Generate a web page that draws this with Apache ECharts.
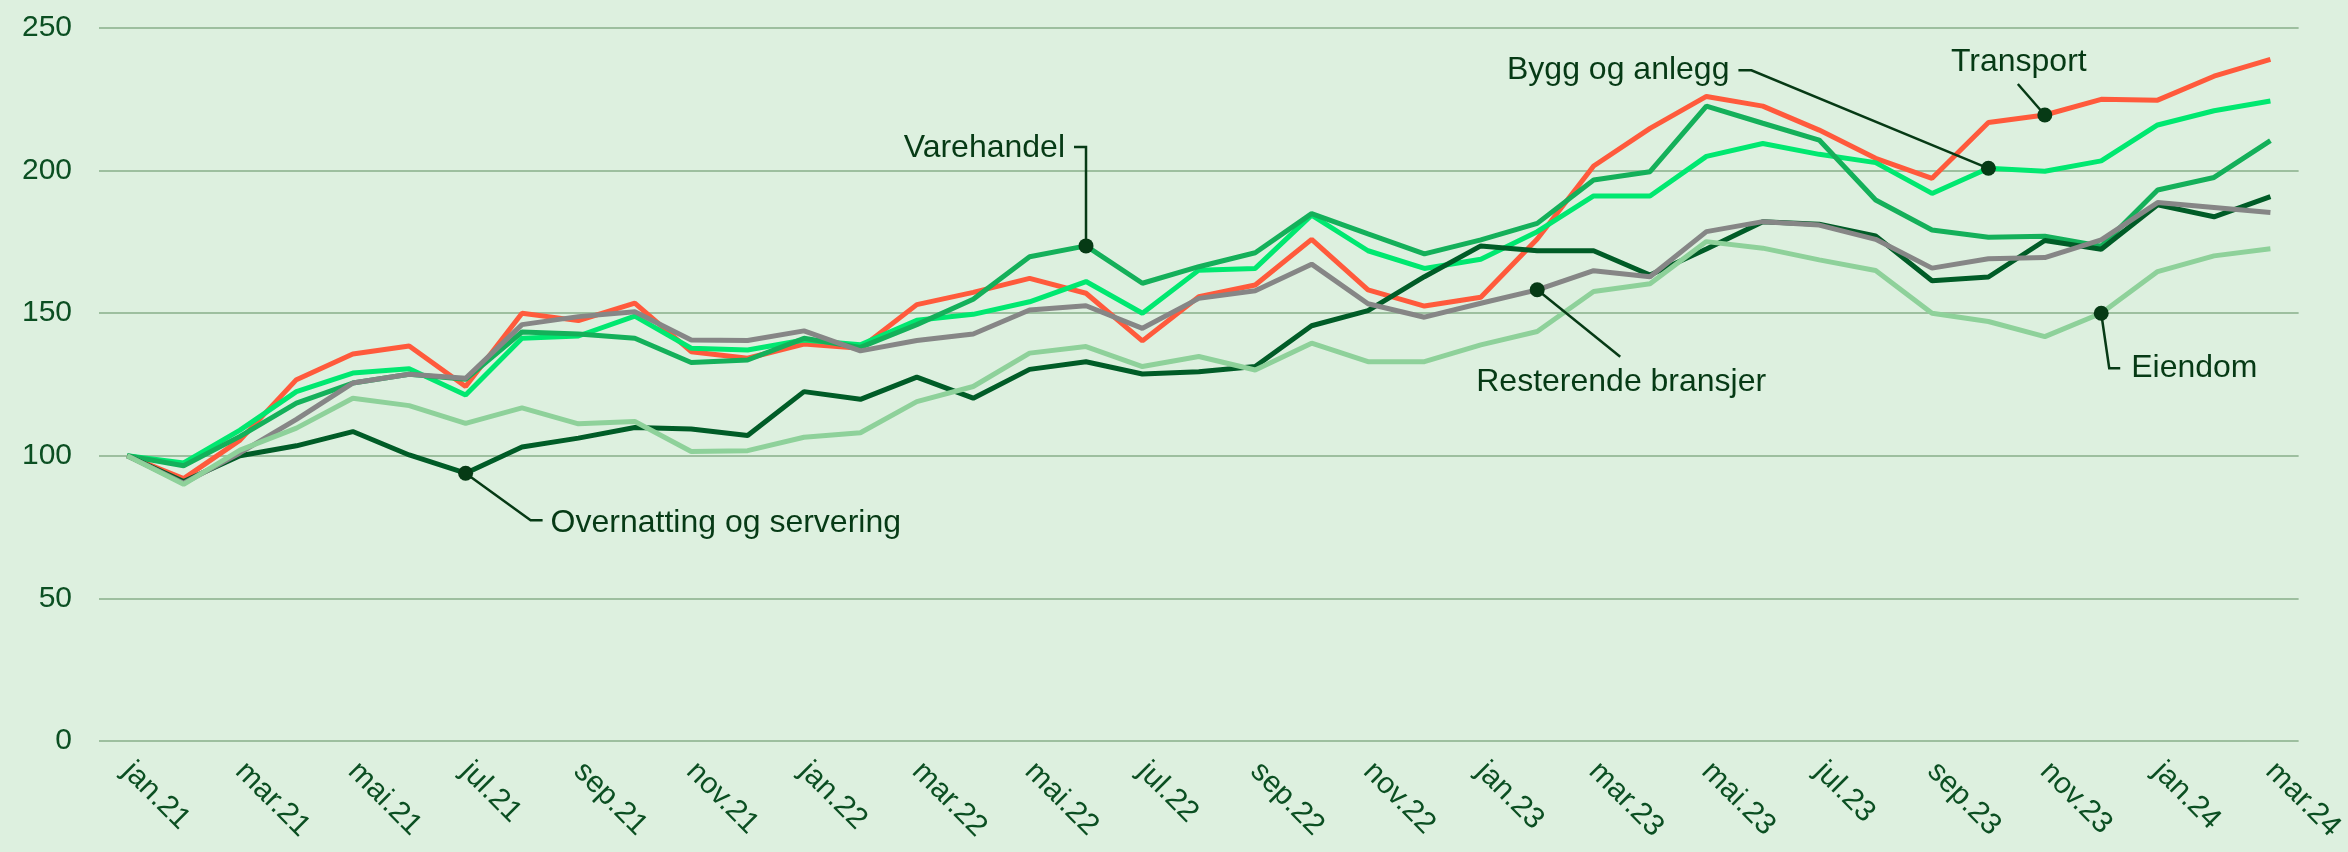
<!DOCTYPE html>
<html>
<head>
<meta charset="utf-8">
<script src="https://cdn.jsdelivr.net/npm/echarts@6/dist/echarts.min.js"></script>
<style>
  html, body { margin: 0; padding: 0; background: #DDF0DF; }
  #chart { width: 2348px; height: 852px; }
</style>
</head>
<body>
<div id="chart"></div>
<script>
  // måneder jan.21 - mar.24
  var months = ['jan.21','feb.21','mar.21','apr.21','mai.21','jun.21','jul.21','aug.21','sep.21','okt.21','nov.21','des.21',
    'jan.22','feb.22','mar.22','apr.22','mai.22','jun.22','jul.22','aug.22','sep.22','okt.22','nov.22','des.22',
    'jan.23','feb.23','mar.23','apr.23','mai.23','jun.23','jul.23','aug.23','sep.23','okt.23','nov.23','des.23',
    'jan.24','feb.24','mar.24'];
  var yTicks = [0, 50, 100, 150, 200, 250];

  var transport = [100, 92, 105.5, 126.7, 135.7, 138.5, 124.3, 150, 147.4, 153.5, 136.5, 134.2,
    139.2, 137.7, 153, 157.3, 162.2, 157, 140.3, 155.8, 159.9, 175.9, 158.2, 152.5,
    155.6, 176, 201.6, 214.8, 226, 222.6, 214.2, 204.3, 197.3, 216.9, 219.5, 225,
    224.7, 233.1, 239];
  var bygg = [100, 97.5, 109, 122.5, 129, 130.5, 121.3, 141.2, 142, 149, 137.7, 137.1,
    140.6, 138.9, 147.5, 149.6, 154, 161.1, 150, 165.1, 165.7, 184.4, 171.9, 165.7,
    168.9, 178.6, 191.1, 191.1, 205, 209.5, 205.7, 202.8, 192, 200.8, 199.8, 203.4,
    216, 221, 224.4];
  var varehandel = [100, 96.5, 106.8, 118.5, 125.5, 128.6, 126.8, 143.4, 142.7, 141.2, 132.7, 133.6,
    141.2, 138, 146, 154.9, 169.8, 173.6, 160.5, 166.3, 171.2, 184.9, 177.8, 170.8,
    175.7, 181.5, 196.7, 199.6, 222.6, 216.6, 210.7, 189.7, 179.2, 176.6, 177, 173.5,
    193.2, 197.6, 210.5];
  var overnatting = [100, 91, 100, 103.5, 108.5, 100.3, 93.9, 103.1, 106.2, 109.9, 109.4, 107.1,
    122.5, 119.8, 127.6, 120.2, 130.3, 133, 128.7, 129.5, 131.3, 145.6, 150.9, 162.8,
    173.6, 171.9, 171.9, 163.4, 172.5, 182.1, 181.2, 177.1, 161.4, 162.7, 175.5, 172.4,
    188, 183.8, 190.9];
  var resterende = [100, 90.4, 101, 112.8, 125.5, 128.6, 127.2, 146, 148.8, 150.5, 140.6, 140.4,
    143.8, 136.8, 140.4, 142.7, 151.1, 152.6, 144.7, 155.2, 157.9, 167.2, 153.3, 148.6,
    153.5, 158.2, 164.9, 162.8, 178.6, 182.1, 180.9, 175.9, 165.8, 169.1, 169.5, 175.7,
    188.8, 187.1, 185.3];
  var eiendom = [100, 90, 102, 109.7, 120.2, 117.6, 111.4, 116.8, 111.2, 112, 101.5, 101.8,
    106.5, 108.1, 119, 124.3, 136, 138.3, 131.3, 134.8, 130.1, 139.5, 133, 133,
    138.9, 143.6, 157.6, 160.3, 175.1, 172.8, 168.7, 165, 150, 147.1, 141.8, 150,
    164.6, 170.1, 172.6];

  var font = '"Liberation Sans", Arial, sans-serif';
  var textColor = '#0B4F22';
  var noteColor = '#063A15';

  var lines = [
    {name: 'Transport', data: transport, color: '#FF5A3C'},
    {name: 'Bygg og anlegg', data: bygg, color: '#00E870'},
    {name: 'Varehandel', data: varehandel, color: '#14B05A'},
    {name: 'Overnatting og servering', data: overnatting, color: '#005C27'},
    {name: 'Resterende bransjer', data: resterende, color: '#868686'},
    {name: 'Eiendom', data: eiendom, color: '#8ED19A'}
  ];

  // merkelapper: serie, punkt, strek (relativt til punktet), tekstplassering
  var notes = [
    {series: 2, idx: 17, path: [[0, 0], [0, -99], [-12, -99]], text: [-21, -98], align: 'right'},
    {series: 1, idx: 33, path: [[0, 0], [-237, -98], [-250, -98]], text: [-259, -98], align: 'right'},
    {series: 0, idx: 34, path: [[0, 0], [-27, -31]], text: [-26, -53], align: 'center'},
    {series: 5, idx: 35, path: [[0, 0], [8, 55], [19, 55]], text: [30, 55], align: 'left'},
    {series: 4, idx: 25, path: [[0, 0], [83, 67]], text: [84, 92], align: 'center'},
    {series: 3, idx: 6, path: [[0, 0], [65, 47], [77, 47]], text: [85, 50], align: 'left'}
  ];

  var chart = echarts.init(document.getElementById('chart'));

  var option = {
    backgroundColor: '#DDF0DF',
    animation: false,
    grid: {left: 99, top: 28, width: 2200, height: 713},
    xAxis: {
      type: 'category',
      boundaryGap: true,
      data: months,
      axisLine: {show: false},
      axisTick: {show: false},
      axisLabel: {
        interval: 1,
        rotate: -45,
        margin: 26,
        color: textColor,
        fontSize: 30,
        fontFamily: font
      }
    },
    yAxis: {
      type: 'value',
      min: yTicks[0],
      max: yTicks[yTicks.length - 1],
      interval: yTicks[1] - yTicks[0],
      axisLine: {show: false},
      axisTick: {show: false},
      axisLabel: {margin: 27, color: textColor, fontSize: 30, fontFamily: font},
      splitLine: {lineStyle: {color: '#9DBF9F', width: 2}}
    },
    series: lines.map(function (l) {
      return {
        name: l.name,
        type: 'line',
        data: l.data,
        symbol: 'none',
        lineStyle: {color: l.color, width: 5},
        itemStyle: {color: l.color}
      };
    })
  };
  chart.setOption(option);

  var graphics = [];
  notes.forEach(function (n) {
    var s = lines[n.series];
    var p = chart.convertToPixel({xAxisIndex: 0, yAxisIndex: 0}, [n.idx, s.data[n.idx]]);
    graphics.push({
      type: 'polyline',
      z: 100,
      shape: {points: n.path.map(function (d) { return [p[0] + d[0], p[1] + d[1]]; })},
      style: {stroke: noteColor, lineWidth: 2.5, fill: null}
    });
    graphics.push({
      type: 'circle',
      z: 101,
      shape: {cx: p[0], cy: p[1], r: 7.5},
      style: {fill: noteColor}
    });
    graphics.push({
      type: 'text',
      z: 101,
      style: {
        x: p[0] + n.text[0],
        y: p[1] + n.text[1],
        text: s.name,
        fill: noteColor,
        font: '32px ' + font,
        align: n.align,
        verticalAlign: 'middle',
        textAlign: n.align,
        textVerticalAlign: 'middle'
      }
    });
  });
  chart.setOption({graphic: graphics});
</script>
</body>
</html>
